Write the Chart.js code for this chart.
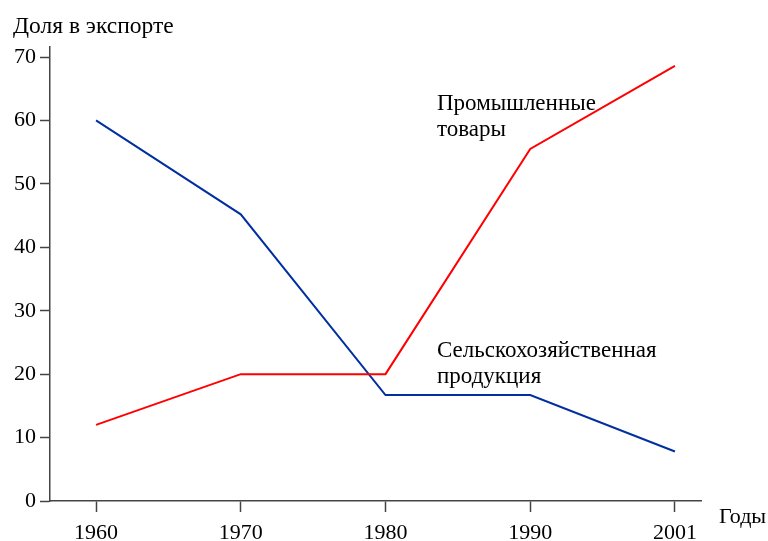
<!DOCTYPE html>
<html>
<head>
<meta charset="utf-8">
<script src="https://cdn.jsdelivr.net/npm/chart.js@4/dist/chart.umd.min.js"></script>
<style>
  body { margin: 0; background: #fff; }
  canvas { display: block; }
</style>
</head>
<body>
<canvas id="exportChart" width="768" height="541"></canvas>
<script>
const years = ["1960", "1970", "1980", "1990", "2001"];
const industrial = [12, 20, 20, 55.5, 68.6];
const agricultural = [60, 45.2, 16.7, 16.7, 7.8];
const yTicks = [0, 10, 20, 30, 40, 50, 60, 70];

const serif = "'Liberation Serif', 'DejaVu Serif', serif";
const axisColor = "#444";

function points(values) {
  return values.map((v, i) => ({ x: i, y: v }));
}

// title, axis caption and line names
const labelsPlugin = {
  id: "labels",
  afterDraw(chart) {
    const ctx = chart.ctx;
    ctx.save();
    ctx.fillStyle = "#000";
    ctx.textAlign = "left";
    ctx.textBaseline = "alphabetic";
    ctx.font = "23.5px " + serif;
    ctx.fillText("Доля в экспорте", 13, 33);
    ctx.font = "22px " + serif;
    ctx.fillText("Годы", 719, 523);
    ctx.font = "23px " + serif;
    ctx.fillText("Промышленные", 437, 110);
    ctx.fillText("товары", 437, 136);
    ctx.fillText("Сельскохозяйственная", 437, 357);
    ctx.fillText("продукция", 437, 383);
    ctx.restore();
  }
};

new Chart(document.getElementById("exportChart"), {
  type: "line",
  data: {
    datasets: [
      {
        label: "Промышленные товары",
        data: points(industrial),
        borderColor: "rgb(255, 0, 0)",
        borderWidth: 2,
        pointRadius: 0,
        tension: 0,
      },
      {
        label: "Сельскохозяйственная продукция",
        data: points(agricultural),
        borderColor: "rgb(0, 48, 160)",
        borderWidth: 2,
        pointRadius: 0,
        tension: 0,
      },
    ],
  },
  options: {
    responsive: false,
    animation: false,
    layout: { padding: { top: 47, right: 67, left: 0, bottom: 0 } },
    plugins: {
      legend: { display: false },
      tooltip: { enabled: false },
    },
    scales: {
      x: {
        type: "linear",
        min: -0.318,
        max: 4.18,
        afterBuildTicks: (scale) => {
          scale.ticks = years.map((y, i) => ({ value: i }));
        },
        afterFit: (scale) => { scale.height = 40; },
        ticks: {
          callback: (v) => years[v],
          color: "#000",
          font: { family: serif, size: 22 },
          padding: 8,
          maxRotation: 0,
          autoSkip: false,
        },
        grid: {
          drawOnChartArea: false,
          tickLength: 11,
          tickColor: axisColor,
          tickWidth: 1.5,
        },
        border: { color: axisColor, width: 1.5 },
      },
      y: {
        min: 0,
        max: 71.58,
        afterBuildTicks: (scale) => {
          scale.ticks = yTicks.map((v) => ({ value: v }));
        },
        afterFit: (scale) => { scale.width = 50; },
        ticks: {
          color: "#000",
          font: { family: serif, size: 22 },
          padding: 4,
        },
        grid: {
          drawOnChartArea: false,
          tickLength: 10,
          tickColor: axisColor,
          tickWidth: 1.5,
        },
        border: { color: axisColor, width: 1.5 },
      },
    },
  },
  plugins: [labelsPlugin],
});
</script>
</body>
</html>
